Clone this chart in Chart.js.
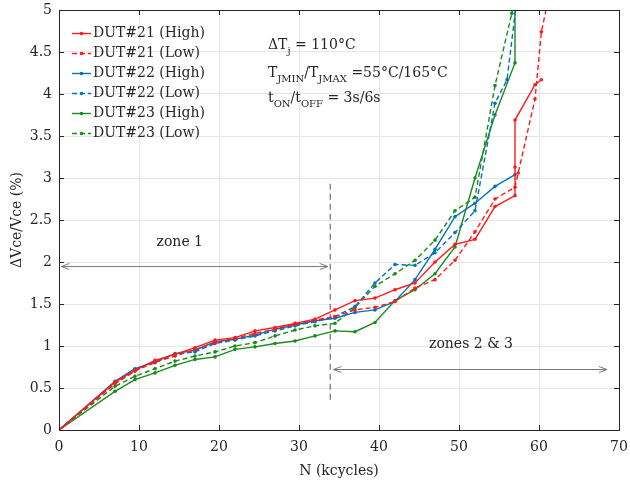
<!DOCTYPE html>
<html>
<head>
<meta charset="utf-8">
<script src="https://cdn.jsdelivr.net/npm/chart.js@4/dist/chart.umd.min.js"></script>
<style>
html,body{margin:0;padding:0;background:#fff;}
#wrap{width:630px;height:484px;position:relative;}
</style>
</head>
<body>
<div id="wrap"><canvas id="c" width="630" height="484"></canvas></div>
<script>
// ---------- data (N in kcycles, values in %) ----------
const seriesNames = ["DUT#21 (High)","DUT#21 (Low)","DUT#22 (High)","DUT#22 (Low)","DUT#23 (High)","DUT#23 (Low)"];

const n21High = [0,7,9.5,12,14.5,17,19.5,22,24.5,27,29.5,32,34.5,37,39.5,42,44.5,47,49.5,52,54.5,57,57,57,59.5,60.3];
const v21High = [0,0.57,0.71,0.83,0.90,0.98,1.07,1.10,1.18,1.22,1.27,1.32,1.43,1.54,1.57,1.67,1.75,2.00,2.21,2.27,2.66,2.79,3.13,3.69,4.11,4.17];

const n21Low = [0,7,9.5,12,14.5,17,19.5,22,24.5,27,29.5,32,34.5,37,39.5,42,44.5,47,49.5,52,54.5,57,57.4,59.5,60.3,61.1];
const v21Low = [0,0.55,0.70,0.81,0.88,0.96,1.04,1.09,1.15,1.20,1.26,1.31,1.35,1.43,1.46,1.53,1.69,1.79,2.02,2.36,2.75,2.89,3.06,3.94,4.74,5.10];

const n22High = [0,7,9.5,12,14.5,17,19.5,22,24.5,27,29.5,32,34.5,37,39.5,42,44.5,47,49.5,52,54.5,57];
const v22High = [0,0.58,0.73,0.81,0.91,0.95,1.05,1.08,1.13,1.20,1.25,1.30,1.33,1.40,1.43,1.53,1.79,2.15,2.54,2.70,2.90,3.04];

const n22Low = [0,7,9.5,12,14.5,17,19.5,22,24.5,27,29.5,32,34.5,37,39.5,42,44.5,47,49.5,52,54.5,56,57.2];
const v22Low = [0,0.56,0.72,0.80,0.90,0.93,1.03,1.07,1.12,1.18,1.24,1.29,1.35,1.47,1.75,1.97,1.96,2.11,2.35,2.61,3.89,4.17,5.10];

const n23High = [0,7,9.5,12,14.5,17,19.5,22,24.5,27,29.5,32,34.5,37,39.5,42,44.5,47,49.5,52,54.5,57,57];
const v23High = [0,0.46,0.60,0.68,0.77,0.84,0.87,0.96,0.99,1.03,1.06,1.12,1.18,1.17,1.28,1.54,1.67,1.86,2.18,3.00,3.75,4.37,5.10];

const n23Low = [0,7,9.5,12,14.5,17,19.5,22,24.5,27,29.5,32,34.5,37,39.5,42,44.5,47,49.5,52,54.5,56.6,56.8];
const v23Low = [0,0.52,0.64,0.73,0.82,0.88,0.93,1.00,1.04,1.12,1.19,1.24,1.27,1.46,1.71,1.86,2.02,2.26,2.61,2.77,4.10,4.96,5.10];

const xTickValues = [0,10,20,30,40,50,60,70];
const yTickValues = [0,0.5,1,1.5,2,2.5,3,3.5,4,4.5,5];

// annotation anchors (data units)
const zoneBoundaryN = 33.9;
const zoneBoundaryRange = [0.36, 2.98];
const zone1Arrow = {from: 0.3, to: 33.6, y: 1.95};
const zone23Arrow = {from: 34.3, to: 68.5, y: 0.73};
const zone1Label = {text: "zone 1", x: 15.1, y: 2.23};
const zone23Label = {text: "zones 2 & 3", x: 51.5, y: 1.02};

// ---------- styles ----------
const RED = "#ff1a1a", BLUE = "#0072bd", GREEN = "#1b8a1b";
const FONT = "'DejaVu Serif', serif";
const TXT = "#262626";

function pts(ns, vs){ return ns.map((n,i)=>({x:n,y:vs[i]})); }
function ds(label, ns, vs, color, dashed){
  return {label, data: pts(ns,vs), borderColor: color, backgroundColor: color,
    borderWidth: 1.4, borderDash: dashed ? [5,3] : [], pointRadius: 1.8, pointHoverRadius: 1.8,
    pointBorderWidth: 0, pointBackgroundColor: color, tension: 0, fill: false};
}
const datasets = [
  ds(seriesNames[0], n21High, v21High, RED, false),
  ds(seriesNames[1], n21Low, v21Low, RED, true),
  ds(seriesNames[2], n22High, v22High, BLUE, false),
  ds(seriesNames[3], n22Low, v22Low, BLUE, true),
  ds(seriesNames[4], n23High, v23High, GREEN, false),
  ds(seriesNames[5], n23Low, v23Low, GREEN, true)
];

function drawArrowHead(ctx, x, y, dir){
  ctx.beginPath();
  ctx.moveTo(x + dir*8, y - 3);
  ctx.lineTo(x, y);
  ctx.lineTo(x + dir*8, y + 3);
  ctx.stroke();
}
function drawSubText(ctx, parts, x, y){
  let cx = x;
  for (const [t, sub] of parts){
    ctx.font = sub ? "10px " + FONT : "14px " + FONT;
    ctx.fillText(t, cx, sub ? y + 5 : y);
    cx += ctx.measureText(t).width;
  }
}

const overlay = {
  id: 'overlay',
  beforeDatasetsDraw(chart){
    const {ctx, chartArea:a, scales:{x,y}} = chart;
    ctx.save();
    ctx.strokeStyle = "#555"; ctx.lineWidth = 1; ctx.setLineDash([6,4]);
    const bx = x.getPixelForValue(zoneBoundaryN);
    ctx.beginPath(); ctx.moveTo(bx, y.getPixelForValue(zoneBoundaryRange[0])); ctx.lineTo(bx, y.getPixelForValue(zoneBoundaryRange[1])); ctx.stroke();
    ctx.setLineDash([]);
    ctx.strokeStyle = "#7a7a7a"; ctx.lineWidth = 1;
    for (const ar of [zone1Arrow, zone23Arrow]){
      const x1 = x.getPixelForValue(ar.from), x2 = x.getPixelForValue(ar.to), yy = Math.round(y.getPixelForValue(ar.y)) + 0.5;
      ctx.beginPath(); ctx.moveTo(x1, yy); ctx.lineTo(x2, yy); ctx.stroke();
      drawArrowHead(ctx, x1, yy, 1); drawArrowHead(ctx, x2, yy, -1);
    }
    ctx.fillStyle = TXT; ctx.font = "14px " + FONT; ctx.textAlign = "center"; ctx.textBaseline = "middle";
    for (const l of [zone1Label, zone23Label]) ctx.fillText(l.text, x.getPixelForValue(l.x), y.getPixelForValue(l.y));
    ctx.restore();
  },
  afterDraw(chart){
    const {ctx, chartArea:a, scales:{x,y}} = chart;
    ctx.save();
    ctx.strokeStyle = "#262626"; ctx.lineWidth = 1;
    ctx.strokeRect(Math.round(a.left)+0.5, Math.round(a.top)+0.5, Math.round(a.right-a.left), Math.round(a.bottom-a.top));
    ctx.beginPath();
    for (const v of xTickValues){
      const px = Math.round(x.getPixelForValue(v)) + 0.5;
      ctx.moveTo(px, a.bottom); ctx.lineTo(px, a.bottom - 5);
      ctx.moveTo(px, a.top); ctx.lineTo(px, a.top + 5);
    }
    for (const v of yTickValues){
      const py = Math.round(y.getPixelForValue(v)) + 0.5;
      ctx.moveTo(a.left, py); ctx.lineTo(a.left + 5, py);
      ctx.moveTo(a.right, py); ctx.lineTo(a.right - 5, py);
    }
    ctx.stroke();
    ctx.textAlign = "left"; ctx.textBaseline = "middle"; ctx.font = "14px " + FONT;
    datasets.forEach((d, i) => {
      const ly = 33.5 + 20 * i;
      ctx.strokeStyle = d.borderColor; ctx.lineWidth = 1.4; ctx.setLineDash(d.borderDash);
      ctx.beginPath(); ctx.moveTo(72, ly); ctx.lineTo(91, ly); ctx.stroke();
      ctx.setLineDash([]);
      ctx.fillStyle = d.borderColor; ctx.beginPath(); ctx.arc(81.5, ly, 1.8, 0, Math.PI*2); ctx.fill();
      ctx.fillStyle = TXT; ctx.fillText(d.label, 93, ly);
    });
    ctx.textBaseline = "alphabetic"; ctx.fillStyle = TXT;
    drawSubText(ctx, [["ΔT",0],["j",1],[" = 110°C",0]], 268, 49);
    drawSubText(ctx, [["T",0],["JMIN",1],["/T",0],["JMAX",1],[" =55°C/165°C",0]], 268, 77);
    drawSubText(ctx, [["t",0],["ON",1],["/t",0],["OFF",1],[" = 3s/6s",0]], 268, 102);
    ctx.restore();
  }
};

new Chart(document.getElementById('c'), {
  type: 'line',
  data: { datasets },
  options: {
    responsive: false, animation: false, devicePixelRatio: 1,
    layout: { padding: { left: 0, right: 11, top: 10, bottom: 0 } },
    plugins: { legend: { display: false }, tooltip: { enabled: false } },
    scales: {
      x: {
        type: 'linear', min: 0, max: 70,
        afterBuildTicks: s => { s.ticks = xTickValues.map(v => ({value: v})); },
        afterFit: s => { s.height = 54; s.paddingLeft = 0; s.paddingRight = 0; },
        grid: { color: "#e6e6e6", drawTicks: false },
        border: { display: false },
        ticks: { color: TXT, font: { family: FONT, size: 14 }, padding: 9, maxRotation: 0 },
        title: { display: true, text: "N (kcycles)", color: TXT, font: { family: FONT, size: 14 }, padding: { top: 4, bottom: 4 } }
      },
      y: {
        type: 'linear', min: 0, max: 5,
        afterBuildTicks: s => { s.ticks = yTickValues.map(v => ({value: v})); },
        afterFit: s => { s.width = 59; s.paddingTop = 0; s.paddingBottom = 0; },
        grid: { color: "#e6e6e6", drawTicks: false },
        border: { display: false },
        ticks: { color: TXT, font: { family: FONT, size: 14 }, padding: 7, callback: v => String(v) },
        title: { display: true, text: "ΔVce/Vce (%)", color: TXT, font: { family: FONT, size: 14 }, padding: { top: 9, bottom: 0 } }
      }
    }
  },
  plugins: [overlay]
});
</script>
</body>
</html>
